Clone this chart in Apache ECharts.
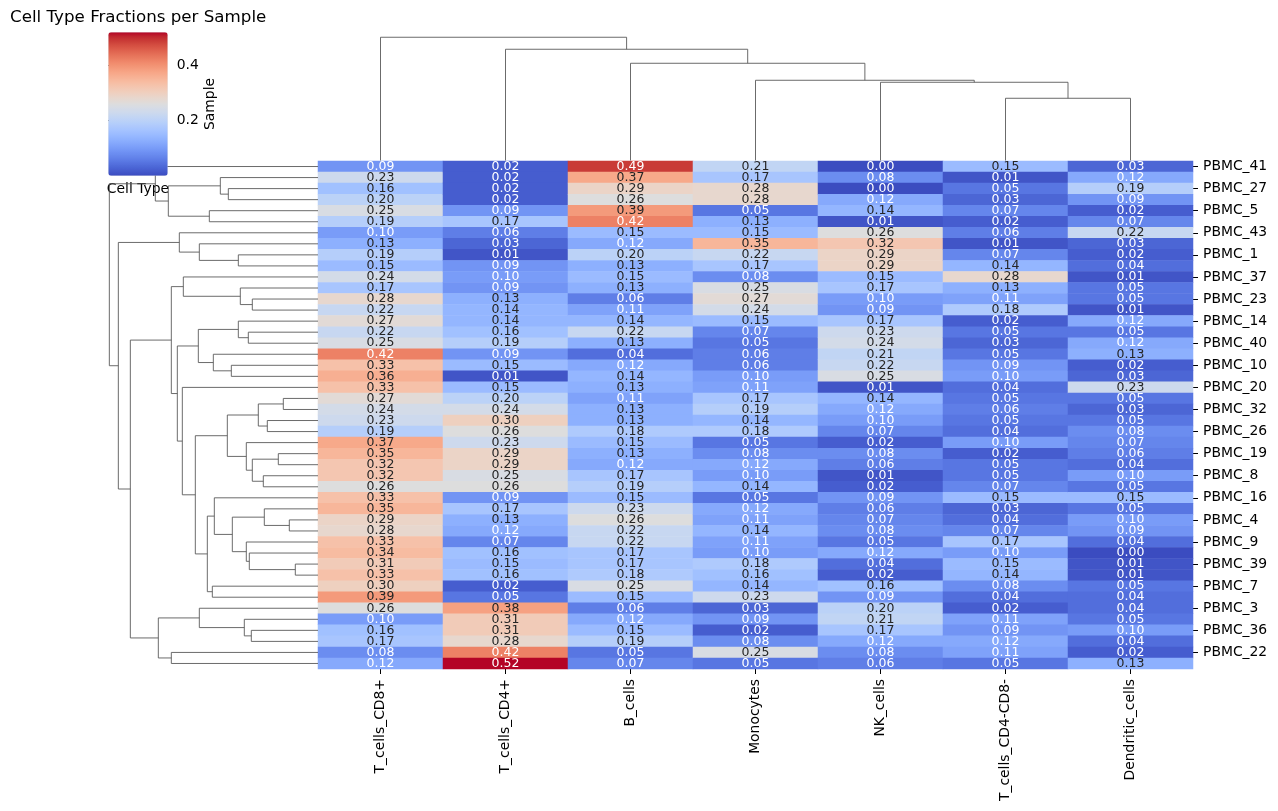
<!DOCTYPE html>
<html><head><meta charset="utf-8">
<script src="https://cdn.jsdelivr.net/npm/echarts@6/dist/echarts.min.js"></script>
<style>html,body{margin:0;padding:0;background:#fff}#c{width:1278px;height:811px}</style>
</head><body><div id="c"></div>
<script>
// ---------- data ----------
const cellTypes = ['T_cells_CD8+','T_cells_CD4+','B_cells','Monocytes','NK_cells','T_cells_CD4-CD8-','Dendritic_cells'];
// samples in clustered (display) order; only every other label is visible in the reference
const samples = ['PBMC_41','PBMC_2','PBMC_27','PBMC_6','PBMC_5','PBMC_11','PBMC_43','PBMC_12','PBMC_1','PBMC_13',
  'PBMC_37','PBMC_15','PBMC_23','PBMC_17','PBMC_14','PBMC_18','PBMC_40','PBMC_21','PBMC_10','PBMC_24',
  'PBMC_20','PBMC_25','PBMC_32','PBMC_28','PBMC_26','PBMC_29','PBMC_19','PBMC_30','PBMC_8','PBMC_31',
  'PBMC_16','PBMC_33','PBMC_4','PBMC_34','PBMC_9','PBMC_35','PBMC_39','PBMC_38','PBMC_7','PBMC_42',
  'PBMC_3','PBMC_44','PBMC_36','PBMC_45','PBMC_22','PBMC_46'];
const tCD8 = [0.09,0.23,0.16,0.20,0.25,0.19,0.10,0.13,0.19,0.15,0.24,0.17,0.28,0.22,0.27,0.22,0.25,0.42,0.33,0.36,0.33,0.27,0.24,
  0.23,0.19,0.37,0.35,0.32,0.32,0.26,0.33,0.35,0.29,0.28,0.33,0.34,0.31,0.33,0.30,0.39,0.26,0.10,0.16,0.17,0.08,0.12];
const tCD4 = [0.02,0.02,0.02,0.02,0.09,0.17,0.06,0.03,0.01,0.09,0.10,0.09,0.13,0.14,0.14,0.16,0.19,0.09,0.15,0.01,0.15,0.20,0.24,
  0.30,0.26,0.23,0.29,0.29,0.25,0.26,0.09,0.17,0.13,0.12,0.07,0.16,0.15,0.16,0.02,0.05,0.38,0.31,0.31,0.28,0.42,0.52];
const bCells = [0.49,0.37,0.29,0.26,0.39,0.42,0.15,0.12,0.20,0.13,0.15,0.13,0.06,0.11,0.14,0.22,0.13,0.04,0.12,0.14,0.13,0.11,0.13,
  0.13,0.18,0.15,0.13,0.12,0.17,0.19,0.15,0.23,0.26,0.22,0.22,0.17,0.17,0.18,0.25,0.15,0.06,0.12,0.15,0.19,0.05,0.07];
const monocytes = [0.21,0.17,0.28,0.28,0.05,0.13,0.15,0.35,0.22,0.17,0.08,0.25,0.27,0.24,0.15,0.07,0.05,0.06,0.06,0.10,0.11,0.17,0.19,
  0.14,0.18,0.05,0.08,0.12,0.10,0.14,0.05,0.12,0.11,0.14,0.11,0.10,0.18,0.16,0.14,0.23,0.03,0.09,0.02,0.08,0.25,0.05];
const nkCells = [0.00,0.08,0.00,0.12,0.14,0.01,0.26,0.32,0.29,0.29,0.15,0.17,0.10,0.09,0.17,0.23,0.24,0.21,0.22,0.25,0.01,0.14,0.12,
  0.10,0.07,0.02,0.08,0.06,0.01,0.02,0.09,0.06,0.07,0.08,0.05,0.12,0.04,0.02,0.16,0.09,0.20,0.21,0.17,0.12,0.08,0.06];
const tDN = [0.15,0.01,0.05,0.03,0.07,0.02,0.06,0.01,0.07,0.14,0.28,0.13,0.11,0.18,0.02,0.05,0.03,0.05,0.09,0.10,0.04,0.05,0.06,
  0.05,0.04,0.10,0.02,0.05,0.05,0.07,0.15,0.03,0.04,0.07,0.17,0.10,0.15,0.14,0.08,0.04,0.02,0.11,0.09,0.12,0.11,0.05];
const dendritic = [0.03,0.12,0.19,0.09,0.02,0.07,0.22,0.03,0.02,0.04,0.01,0.05,0.05,0.01,0.12,0.05,0.12,0.13,0.02,0.03,0.23,0.05,0.03,
  0.05,0.08,0.07,0.06,0.04,0.10,0.05,0.15,0.05,0.10,0.09,0.04,0.00,0.01,0.01,0.05,0.04,0.04,0.05,0.10,0.04,0.02,0.13];
const columns = [tCD8, tCD4, bCells, monocytes, nkCells, tDN, dendritic];

// dendrograms: node = [left, right, mergeDistance]; leaves = display index (estimated distances)
const rowTree = [
  [0, [[1,[2,3,0.897],0.977],[4,5,1.087],1.497], 1.627],
  [
    [6,[7,[8,9,0.797],1.187],1.387],
    [
      [
        [10,[11,[12,13,0.657],0.777],1.347],
        [
          [[14,[15,16,0.697],0.797],[17,[18,19,0.867],1.047],1.197],
          [20,
            [
              [[[21,22,0.347],[23,24,0.507],0.597],[25,[[26,27,0.397],[28,29,0.547],0.657],0.717],0.907],
              [[30,[[31,[32,33,0.287],0.537],[34,[35,[36,37,0.227],0.687],0.717],0.857],1.037],[38,39,1.057],1.107],
              1.227
            ],
            1.357],
          1.407
        ],
        1.467
      ],
      [[40,[41,[42,43,0.667],0.737],1.187],[44,45,1.467],1.597],
      1.877
    ],
    1.997
  ],
  2.087
];
const colTree = [0,[1,[2,[3,[4,[5,6,0.622],0.782],0.802],0.972],1.112],1.232];

const vmin = 0.0, vmax = 0.52;
const cbarTicks = [0.2, 0.4];

// ---------- helpers ----------
const coolwarm = [[59,76,192],[68,90,204],[77,104,215],[87,117,225],[98,130,234],[108,142,241],[119,154,247],[130,165,251],
  [141,176,254],[152,185,255],[163,194,255],[174,201,253],[184,208,249],[194,213,244],[204,217,238],[213,219,230],
  [221,221,221],[229,216,209],[236,211,197],[241,204,185],[245,196,173],[247,187,160],[247,177,148],[247,166,135],
  [244,154,123],[241,141,111],[236,127,99],[229,112,88],[222,96,77],[213,80,66],[203,62,56],[192,40,47],[180,4,38]];
const hex = c => '#' + c.map(x => Math.round(x).toString(16).padStart(2,'0')).join('');
function cmap(v){
  let t = Math.min(1, Math.max(0, (v - vmin) / (vmax - vmin))) * (coolwarm.length - 1);
  const i = Math.min(coolwarm.length - 2, Math.floor(t)), f = t - i;
  return coolwarm[i].map((c,k) => c + (coolwarm[i+1][k] - c) * f);
}
function lum(c){
  const f = x => { x /= 255; return x <= 0.03928 ? x / 12.92 : Math.pow((x + 0.055) / 1.055, 2.4); };
  return 0.2126*f(c[0]) + 0.7152*f(c[1]) + 0.0722*f(c[2]);
}
function layoutTree(node, links){
  if (typeof node === 'number') return {pos: node + 0.5, h: 0};
  const l = layoutTree(node[0], links), r = layoutTree(node[1], links);
  links.push([l.pos, r.pos, l.h, r.h, node[2]]);
  return {pos: (l.pos + r.pos) / 2, h: node[2]};
}
const rowLinks = []; const rowRoot = layoutTree(rowTree, rowLinks);
const colLinks = []; const colRoot = layoutTree(colTree, colLinks);

const heatData = [];
columns.forEach((col, j) => col.forEach((v, i) => {
  heatData.push({value: [j, i, v], label: {color: lum(cmap(v)) > 0.408 ? '#262626' : '#ffffff'}});
}));

function dendroRender(orient){
  return function(params, api){
    const a = api.value(0), b = api.value(1), ha = api.value(2), hb = api.value(3), h = api.value(4);
    const pts = orient === 'row'
      ? [[ha,a],[h,a],[h,b],[hb,b]]
      : [[a,ha],[a,h],[b,h],[b,hb]];
    return {type: 'polyline', shape: {points: pts.map(p => api.coord(p))},
            style: {stroke: '#5a5a5a', lineWidth: 0.9, fill: 'none'}};
  };
}

// ---------- layout ----------
const FONT = 'DejaVu Sans';
const HM = {left: 318, top: 161, width: 875, height: 508};
const rowDW = 219.1, colDH = 129.4;

const chart = echarts.init(document.getElementById('c'), null, {renderer: 'canvas'});
chart.setOption({
  animation: false,
  backgroundColor: '#ffffff',
  textStyle: {fontFamily: FONT},
  title: {text: 'Cell Type Fractions per Sample', left: 10, top: 9, padding: 0,
          textStyle: {fontFamily: FONT, fontSize: 16.7, fontWeight: 'normal', color: '#000'}},
  grid: [
    {left: HM.left, top: HM.top, width: HM.width, height: HM.height},
    {left: HM.left - rowDW, top: HM.top, width: rowDW, height: HM.height},
    {left: HM.left, top: HM.top - 0.5 - colDH, width: HM.width, height: colDH},
    {left: 108.3, top: 32.3, width: 59.4, height: 143.4}
  ],
  xAxis: [
    {gridIndex: 0, type: 'category', data: cellTypes, position: 'bottom',
     axisLine: {show: false}, splitLine: {show: false},
     axisTick: {show: true, alignWithLabel: true, length: 5, lineStyle: {color: '#000', width: 1}},
     axisLabel: {rotate: 90, margin: 10, fontSize: 13.9, color: '#000', fontFamily: FONT}},
    {gridIndex: 1, type: 'value', min: 0, max: rowRoot.h * 1.05, inverse: true, show: false},
    {gridIndex: 2, type: 'value', min: 0, max: cellTypes.length, show: false},
    {gridIndex: 3, type: 'value', min: 0, max: 1, name: 'Cell Type', nameLocation: 'middle', nameGap: 7,
     nameTextStyle: {fontSize: 13.9, color: '#000', fontFamily: FONT, verticalAlign: 'top'},
     axisLine: {show: false}, axisTick: {show: false}, axisLabel: {show: false}, splitLine: {show: false}}
  ],
  yAxis: [
    {gridIndex: 0, type: 'category', data: samples, inverse: true, position: 'right',
     axisLine: {show: false}, splitLine: {show: false},
     axisTick: {show: true, alignWithLabel: true, interval: 1, length: 5, lineStyle: {color: '#000', width: 1}},
     axisLabel: {interval: 1, margin: 10, fontSize: 13.9, color: '#000', fontFamily: FONT}},
    {gridIndex: 1, type: 'value', min: 0, max: samples.length, inverse: true, show: false},
    {gridIndex: 2, type: 'value', min: 0, max: colRoot.h * 1.05, show: false},
    {gridIndex: 3, type: 'value', min: vmin, max: vmax, position: 'right',
     name: 'Sample', nameLocation: 'middle', nameRotate: 90, nameGap: 36,
     nameTextStyle: {fontSize: 13.9, color: '#000', fontFamily: FONT},
     axisLine: {show: false}, splitLine: {show: false},
     axisTick: {show: true, customValues: cbarTicks, length: 5, lineStyle: {color: '#000', width: 1}},
     axisLabel: {customValues: cbarTicks, margin: 9, fontSize: 13.9, color: '#000', fontFamily: FONT,
                 formatter: v => v.toFixed(1)}}
  ],
  visualMap: {
    type: 'continuous', min: vmin, max: vmax, dimension: 2, seriesIndex: 0,
    calculable: false, hoverLink: false, orient: 'vertical',
    left: 108.3, top: 32.3, itemWidth: 59.4, itemHeight: 143.4, padding: 0,
    inRange: {color: coolwarm.map(hex)}
  },
  series: [
    {type: 'heatmap', xAxisIndex: 0, yAxisIndex: 0, data: heatData,
     label: {show: true, fontSize: 12.5, fontFamily: FONT, formatter: p => p.value[2].toFixed(2)},
     itemStyle: {borderWidth: 0}, emphasis: {disabled: true}},
    {type: 'custom', xAxisIndex: 1, yAxisIndex: 1, data: rowLinks, renderItem: dendroRender('row'), silent: true},
    {type: 'custom', xAxisIndex: 2, yAxisIndex: 2, data: colLinks, renderItem: dendroRender('col'), silent: true}
  ]
});
</script></body></html>
